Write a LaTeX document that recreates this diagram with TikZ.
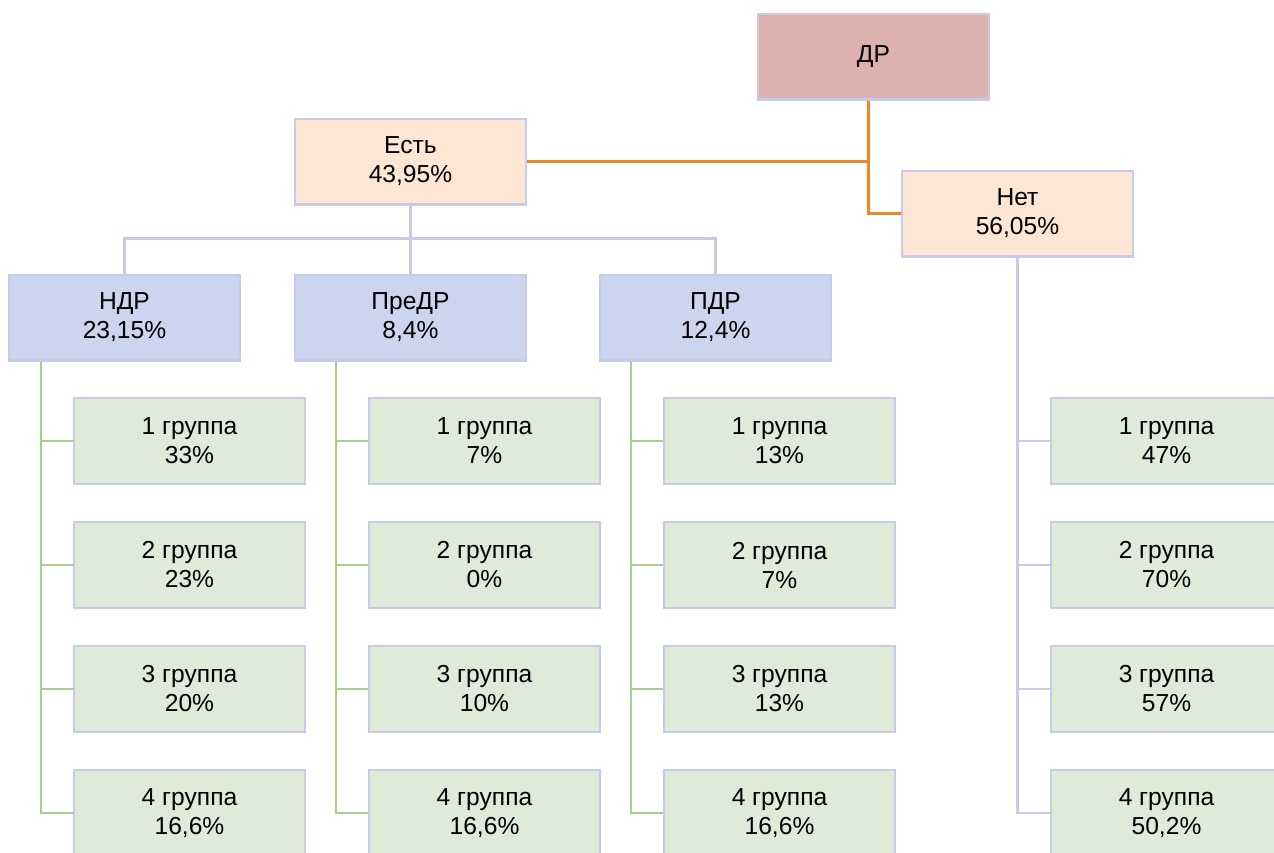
\documentclass[tikz,border=0pt]{standalone}
\usepackage{fontspec}
\setmainfont{Liberation Sans}
\usepackage{xcolor}
\usepackage{tikz}
\usetikzlibrary{positioning}

\definecolor{rootfill}{HTML}{DCB1AE}
\definecolor{ansfill}{HTML}{FDE6D3}
\definecolor{kindfill}{HTML}{CCD5EE}
\definecolor{grpfill}{HTML}{DFEAD9}
\definecolor{boxline}{HTML}{C8CAEA}
\definecolor{greenline}{HTML}{A8D08D}
\definecolor{orangeline}{HTML}{F08524}

\begin{document}
\begin{tikzpicture}[
  x=0.5pt, y=-0.5pt,
  node distance=18pt and 16pt,
  box/.style={draw=boxline, line width=1.1pt, minimum width=115.4pt, minimum height=42.9pt,
              inner sep=0pt, align=center, font=\fontsize{12.3}{14.5}\selectfont},
  root/.style={box, fill=rootfill},
  answer/.style={box, fill=ansfill},
  kind/.style={box, fill=kindfill},
  grp/.style={box, fill=grpfill},
  orline/.style={draw=orangeline, line width=1.5pt},
  lvline/.style={draw=boxline, line width=1.4pt},
  grline/.style={draw=greenline, line width=1.4pt}
]
\useasboundingbox (0,0) rectangle (1274,852);
\clip (0,0) rectangle (1274,852);

\node[root] (dr) at (873.5,56.5) {ДР};
\node[answer] (est) at (410.5,161.5) {Есть\\43,95\%};
\node[answer] (net) at (1017.5,213.5) {Нет\\56,05\%};
\node[kind] (ndr) at (124.5,317.5) {НДР\\23,15\%};
\node[kind] (predr) at (410.5,317.5) {ПреДР\\8,4\%};
\node[kind] (pdr) at (715.5,317.5) {ПДР\\12,4\%};

\node[grp, anchor=north west] (ndr1) at (73,397) {1 группа\\33\%};
\node[grp, below=of ndr1] (ndr2) {2 группа\\23\%};
\node[grp, below=of ndr2] (ndr3) {3 группа\\20\%};
\node[grp, below=of ndr3] (ndr4) {4 группа\\16,6\%};

\node[grp, anchor=north west] (predr1) at (368,397) {1 группа\\7\%};
\node[grp, below=of predr1] (predr2) {2 группа\\0\%};
\node[grp, below=of predr2] (predr3) {3 группа\\10\%};
\node[grp, below=of predr3] (predr4) {4 группа\\16,6\%};

\node[grp, anchor=north west] (pdr1) at (663,397) {1 группа\\13\%};
\node[grp, below=of pdr1] (pdr2) {2 группа\\7\%};
\node[grp, below=of pdr2] (pdr3) {3 группа\\13\%};
\node[grp, below=of pdr3] (pdr4) {4 группа\\16,6\%};

\node[grp, anchor=north west] (net1) at (1050,397) {1 группа\\47\%};
\node[grp, below=of net1] (net2) {2 группа\\70\%};
\node[grp, below=of net2] (net3) {3 группа\\57\%};
\node[grp, below=of net3] (net4) {4 группа\\50,2\%};

\coordinate (trunk) at (868,0);
\draw[orline] (dr.south -| trunk) |- (net.west);
\draw[orline] (est.east) -- (est.east -| trunk);

\draw[lvline] (est.south) -- ++(0,33) -| (ndr.north);
\draw[lvline] (est.south) -- ++(0,33) -| (pdr.north);
\draw[lvline] (est.south) -- (predr.north);

\foreach \p in {ndr,predr,pdr}
  \foreach \i in {1,...,4}
    \draw[grline] ([xshift=-16pt]\p.south -| \p1.west) |- (\p\i.west);
\foreach \i in {1,...,4}
  \draw[lvline] (net.south) |- (net\i.west);
\end{tikzpicture}
\end{document}
